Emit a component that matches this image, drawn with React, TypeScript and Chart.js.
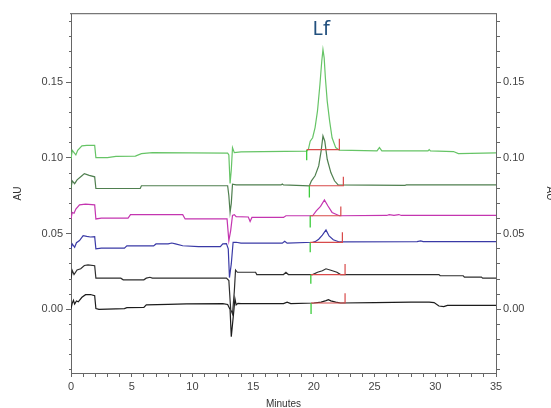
import React, { useEffect, useRef } from 'react';
import { Chart, registerables } from 'chart.js';

Chart.register(...registerables);

// ---- axis settings (values) ----
const xMin = 0;
const xMax = 35;
const yMin = -0.042;
const yMax = 0.195;
const xMajorEvery = 5;
const yMajorEvery = 0.05;

// ---- trace 1 (black, bottom) ----
const trace1Time = [0, 0.1, 0.2, 0.3, 0.45, 0.6, 0.9, 1.2, 1.6, 1.95, 2.05, 2.3, 4.4, 4.6, 6.0, 6.2, 8.0, 9.5, 12.5, 12.9, 13.1, 13.2, 13.3, 13.42, 13.5, 13.6, 13.75, 14.0, 17.5, 17.8, 18.1, 20.0, 20.6, 21.0, 21.2, 21.4, 21.8, 22.2, 25.0, 28.0, 29.5, 29.9, 30.3, 30.7, 31.0, 35];
const trace1AU = [0.0005, 0.004, 0.006, 0.0035, 0.0055, 0.005, 0.008, 0.0097, 0.0098, 0.009, 0.0005, 0.0, 0.0005, 0.0011, 0.0013, 0.003, 0.0033, 0.0036, 0.0038, 0.0032, 0.0, -0.018, -0.01, 0.0, 0.007, 0.003, 0.004, 0.0038, 0.0038, 0.0048, 0.0038, 0.0042, 0.0048, 0.0058, 0.0064, 0.0056, 0.0048, 0.0042, 0.0045, 0.0048, 0.0048, 0.0045, 0.0022, 0.0018, 0.0026, 0.0026];

// ---- trace 2 (black) ----
const trace2Time = [0, 0.1, 0.25, 0.5, 0.8, 1.1, 1.4, 1.95, 2.05, 4.1, 4.3, 6.0, 6.2, 6.5, 6.7, 12.8, 13.0, 13.15, 13.3, 13.45, 13.55, 13.7, 15.2, 15.3, 17.5, 17.7, 17.9, 19.9, 20.3, 20.7, 21.0, 21.4, 21.9, 22.2, 30.3, 30.4, 32.3, 32.4, 33.8, 33.9, 35];
const trace2AU = [0.0202, 0.0257, 0.023, 0.026, 0.0268, 0.029, 0.0294, 0.0288, 0.0206, 0.0206, 0.0195, 0.0195, 0.0206, 0.0212, 0.0206, 0.0206, 0.019, 0.0, -0.003, 0.012, 0.026, 0.0245, 0.0245, 0.023, 0.023, 0.0245, 0.023, 0.023, 0.0245, 0.0255, 0.0268, 0.0258, 0.0245, 0.023, 0.023, 0.0222, 0.0222, 0.0213, 0.0213, 0.0206, 0.0206];

// ---- trace 3 (blue) ----
const trace3Time = [0, 0.1, 0.3, 0.45, 0.7, 1.0, 1.3, 1.6, 1.95, 2.05, 2.5, 4.4, 4.6, 6.8, 7.0, 8.0, 8.3, 8.6, 9.2, 10.5, 12.3, 12.5, 12.8, 12.95, 13.05, 13.2, 13.35, 13.6, 14.0, 17.4, 17.6, 17.8, 19.9, 20.1, 20.4, 20.7, 21.0, 21.25, 21.6, 22.1, 28.5, 28.8, 29.0, 35];
const trace3AU = [0.040, 0.0432, 0.041, 0.044, 0.0454, 0.0487, 0.0482, 0.0478, 0.048, 0.040, 0.0404, 0.0404, 0.0419, 0.0419, 0.0432, 0.0432, 0.0438, 0.0432, 0.042, 0.0414, 0.0414, 0.0432, 0.0434, 0.040, 0.021, 0.03, 0.0443, 0.0443, 0.0437, 0.0437, 0.045, 0.0437, 0.0443, 0.0447, 0.0463, 0.049, 0.0524, 0.0485, 0.046, 0.0445, 0.0447, 0.0452, 0.0447, 0.0447];

// ---- trace 4 (magenta) ----
const trace4Time = [0, 0.1, 0.25, 0.4, 0.7, 1.2, 1.95, 2.05, 2.5, 4.7, 4.9, 9.2, 9.4, 12.85, 13.0, 13.15, 13.3, 13.45, 13.6, 14.6, 14.75, 14.9, 17.5, 17.7, 19.9, 20.2, 20.55, 20.87, 21.15, 21.5, 22.1, 26.0, 26.2, 26.6, 27.0, 27.2, 35];
const trace4AU = [0.0597, 0.064, 0.0635, 0.0662, 0.069, 0.0695, 0.069, 0.0597, 0.0603, 0.0603, 0.0625, 0.0625, 0.0597, 0.0597, 0.0454, 0.052, 0.062, 0.0625, 0.0612, 0.061, 0.058, 0.0607, 0.0607, 0.0618, 0.0618, 0.065, 0.068, 0.0722, 0.0684, 0.064, 0.0618, 0.062, 0.0625, 0.062, 0.0626, 0.062, 0.062];

// ---- trace 5 (dark green) ----
const trace5Time = [0, 0.1, 0.3, 0.5, 0.9, 1.1, 1.5, 1.95, 2.05, 5.7, 5.8, 12.9, 13.0, 13.1, 13.2, 13.3, 13.6, 17.3, 17.4, 17.5, 19.63, 19.8, 20.1, 20.4, 20.6, 20.75, 20.9, 21.1, 21.4, 21.7, 22.0, 27.5, 27.6, 35];
const trace5AU = [0.0798, 0.0849, 0.083, 0.0855, 0.0882, 0.0896, 0.0885, 0.0875, 0.0798, 0.0798, 0.0816, 0.0816, 0.075, 0.064, 0.07, 0.0827, 0.0822, 0.0822, 0.0828, 0.0822, 0.0816, 0.0849, 0.0882, 0.0947, 0.1046, 0.1145, 0.111, 0.0991, 0.0903, 0.0849, 0.0822, 0.0818, 0.0822, 0.0822];

// ---- trace 6 (light green, top) ----
const trace6Time = [0, 0.1, 0.25, 0.4, 0.55, 0.9, 1.3, 1.95, 2.05, 3.0, 3.7, 5.3, 5.8, 6.7, 12.9, 13.0, 13.1, 13.2, 13.3, 13.45, 14.0, 19.41, 19.55, 19.7, 19.9, 20.1, 20.3, 20.5, 20.65, 20.75, 20.85, 20.95, 21.1, 21.3, 21.5, 21.8, 22.1, 25.2, 25.4, 25.6, 29.4, 29.5, 29.6, 31.5, 31.9, 35];
const trace6AU = [0.0991, 0.105, 0.1035, 0.102, 0.105, 0.1079, 0.1083, 0.1083, 0.1002, 0.1002, 0.101, 0.1012, 0.1028, 0.1035, 0.1031, 0.102, 0.0831, 0.092, 0.1068, 0.1035, 0.104, 0.1045, 0.1057, 0.111, 0.1133, 0.12, 0.131, 0.1485, 0.1638, 0.1715, 0.166, 0.1528, 0.1375, 0.1243, 0.1133, 0.1068, 0.1051, 0.1046, 0.1068, 0.1046, 0.1046, 0.1055, 0.1046, 0.1042, 0.1028, 0.1033];

// ---- integration markers (per trace, bottom to top) ----
const markerStart = [19.77, 19.75, 19.7, 19.7, 19.63, 19.41];
const markerEnd = [22.57, 22.57, 22.35, 22.22, 22.43, 22.1];
const markerBase = [0.0042, 0.023, 0.0443, 0.0618, 0.0816, 0.1054];
const markerTop = [0.0107, 0.030, 0.0509, 0.068, 0.0875, 0.1127];
const markerBottom = [-0.003, 0.0169, 0.0377, 0.054, 0.0739, 0.0985];

const peakLabel = 'Lf';
const peakLabelTime = 20.6;
const xTitle = 'Minutes';
const yTitle = 'AU';

const traceTimes = [trace1Time, trace2Time, trace3Time, trace4Time, trace5Time, trace6Time];
const traceAUs = [trace1AU, trace2AU, trace3AU, trace4AU, trace5AU, trace6AU];
const traceColors = ['#1c1c1c', '#2e2e2e', '#3a3aa6', '#c435b0', '#4f7f4f', '#66c466'];

const FONT = '"Liberation Sans", Arial, sans-serif';

const isXMajor = (v: number) => Math.abs(v / xMajorEvery - Math.round(v / xMajorEvery)) < 1e-6;
const isYMajor = (v: number) => Math.abs(v / yMajorEvery - Math.round(v / yMajorEvery)) < 1e-6;

const peakLabelPlugin = {
  id: 'peakLabel',
  afterDatasetsDraw(chart: any) {
    const { ctx, scales } = chart;
    const x = scales.x.getPixelForValue(peakLabelTime);
    const y = chart.chartArea.top + 15;
    ctx.save();
    ctx.font = '20px "Noto Sans", "Open Sans", sans-serif';
    ctx.fillStyle = '#22507e';
    ctx.textAlign = 'center';
    ctx.textBaseline = 'middle';
    ctx.fillText(peakLabel, x, y);
    ctx.restore();
  },
};

export default function App() {
  const ref = useRef<HTMLCanvasElement | null>(null);

  useEffect(() => {
    document.body.style.margin = '0';
    const canvas = ref.current;
    if (!canvas) return;

    const datasets: any[] = [];
    // markers first so they are drawn on top
    for (let i = 0; i < markerStart.length; i++) {
      datasets.push({
        label: 'baseline ' + (i + 1),
        data: [
          { x: markerStart[i], y: markerBase[i] },
          { x: markerEnd[i], y: markerBase[i] },
          { x: markerEnd[i], y: markerTop[i] },
        ],
        borderColor: '#d84a4a',
        borderWidth: 1.2,
        pointRadius: 0,
      });
      datasets.push({
        label: 'start ' + (i + 1),
        data: [
          { x: markerStart[i], y: markerBase[i] },
          { x: markerStart[i], y: markerBottom[i] },
        ],
        borderColor: '#3ccc3c',
        borderWidth: 1.3,
        pointRadius: 0,
      });
    }
    for (let i = traceTimes.length - 1; i >= 0; i--) {
      datasets.push({
        label: 'Trace ' + (i + 1),
        data: traceTimes[i].map((t, k) => ({ x: t, y: traceAUs[i][k] })),
        borderColor: traceColors[i],
        borderWidth: 1.2,
        pointRadius: 0,
        tension: 0,
      });
    }

    const tickFont = { family: FONT, size: 11 };
    const titleFont = { family: FONT, size: 10 };

    const chart = new Chart(canvas, {
      type: 'line',
      data: { datasets },
      plugins: [peakLabelPlugin],
      options: {
        animation: false,
        responsive: false,
        maintainAspectRatio: false,
        layout: { padding: { top: 14, left: 0, right: 0, bottom: 0 } },
        plugins: { legend: { display: false }, tooltip: { enabled: false }, title: { display: false } },
        scales: {
          x: {
            type: 'linear',
            position: 'bottom',
            min: xMin,
            max: xMax,
            afterFit: (s: any) => { s.height = 35; },
            ticks: {
              stepSize: 1,
              autoSkip: false,
              maxRotation: 0,
              padding: 3,
              color: '#444',
              font: tickFont,
              callback: (v: any) => (isXMajor(Number(v)) ? String(Math.round(Number(v))) : ''),
            },
            grid: {
              drawOnChartArea: false,
              drawTicks: true,
              tickLength: 4,
              color: '#666',
              tickBorderDash: (ctx: any) => (ctx.tick && !isXMajor(ctx.tick.value) ? [3, 10] : []),
            },
            border: { color: '#666', width: 1 },
            title: { display: true, text: xTitle, color: '#333', font: titleFont, padding: { top: 0, bottom: -2 } },
          },
          xTop: {
            type: 'linear',
            position: 'top',
            min: xMin,
            max: xMax,
            afterFit: (s: any) => { s.height = 0; },
            ticks: { display: false },
            grid: { drawOnChartArea: false, drawTicks: false },
            border: { color: '#777', width: 1.2 },
          },
          y: {
            type: 'linear',
            position: 'left',
            min: yMin,
            max: yMax,
            afterFit: (s: any) => { s.width = 71; },
            ticks: {
              stepSize: 0.01,
              includeBounds: false,
              autoSkip: false,
              padding: 3,
              color: '#444',
              font: tickFont,
              callback: (v: any) => (isYMajor(Number(v)) ? Number(v).toFixed(2) : ''),
            },
            grid: {
              drawOnChartArea: false,
              drawTicks: true,
              tickLength: 5,
              color: '#666',
              tickBorderDash: (ctx: any) => (ctx.tick && !isYMajor(ctx.tick.value) ? [0, 3, 2, 10] : []),
            },
            border: { color: '#666', width: 1 },
            title: { display: true, text: yTitle, color: '#333', font: titleFont, padding: { top: 12, bottom: 0 } },
          },
          yRight: {
            type: 'linear',
            position: 'right',
            min: yMin,
            max: yMax,
            afterFit: (s: any) => { s.width = 55; },
            ticks: {
              stepSize: 0.01,
              includeBounds: false,
              autoSkip: false,
              padding: 2,
              color: '#444',
              font: tickFont,
              callback: (v: any) => (isYMajor(Number(v)) ? Number(v).toFixed(2) : ''),
            },
            grid: {
              drawOnChartArea: false,
              drawTicks: true,
              tickLength: 5,
              color: '#666',
              tickBorderDash: (ctx: any) => (ctx.tick && !isYMajor(ctx.tick.value) ? [3, 10] : []),
            },
            border: { color: '#666', width: 1 },
            title: { display: true, text: yTitle, color: '#333', font: titleFont, padding: { top: -5, bottom: 0 } },
          },
        },
      },
    });

    return () => chart.destroy();
  }, []);

  return (
    <div style={{ position: 'absolute', left: 0, top: 0, width: 551, height: 408 }}>
      <canvas ref={ref} width={551} height={408} style={{ display: 'block', width: 551, height: 408 }} />
    </div>
  );
}
